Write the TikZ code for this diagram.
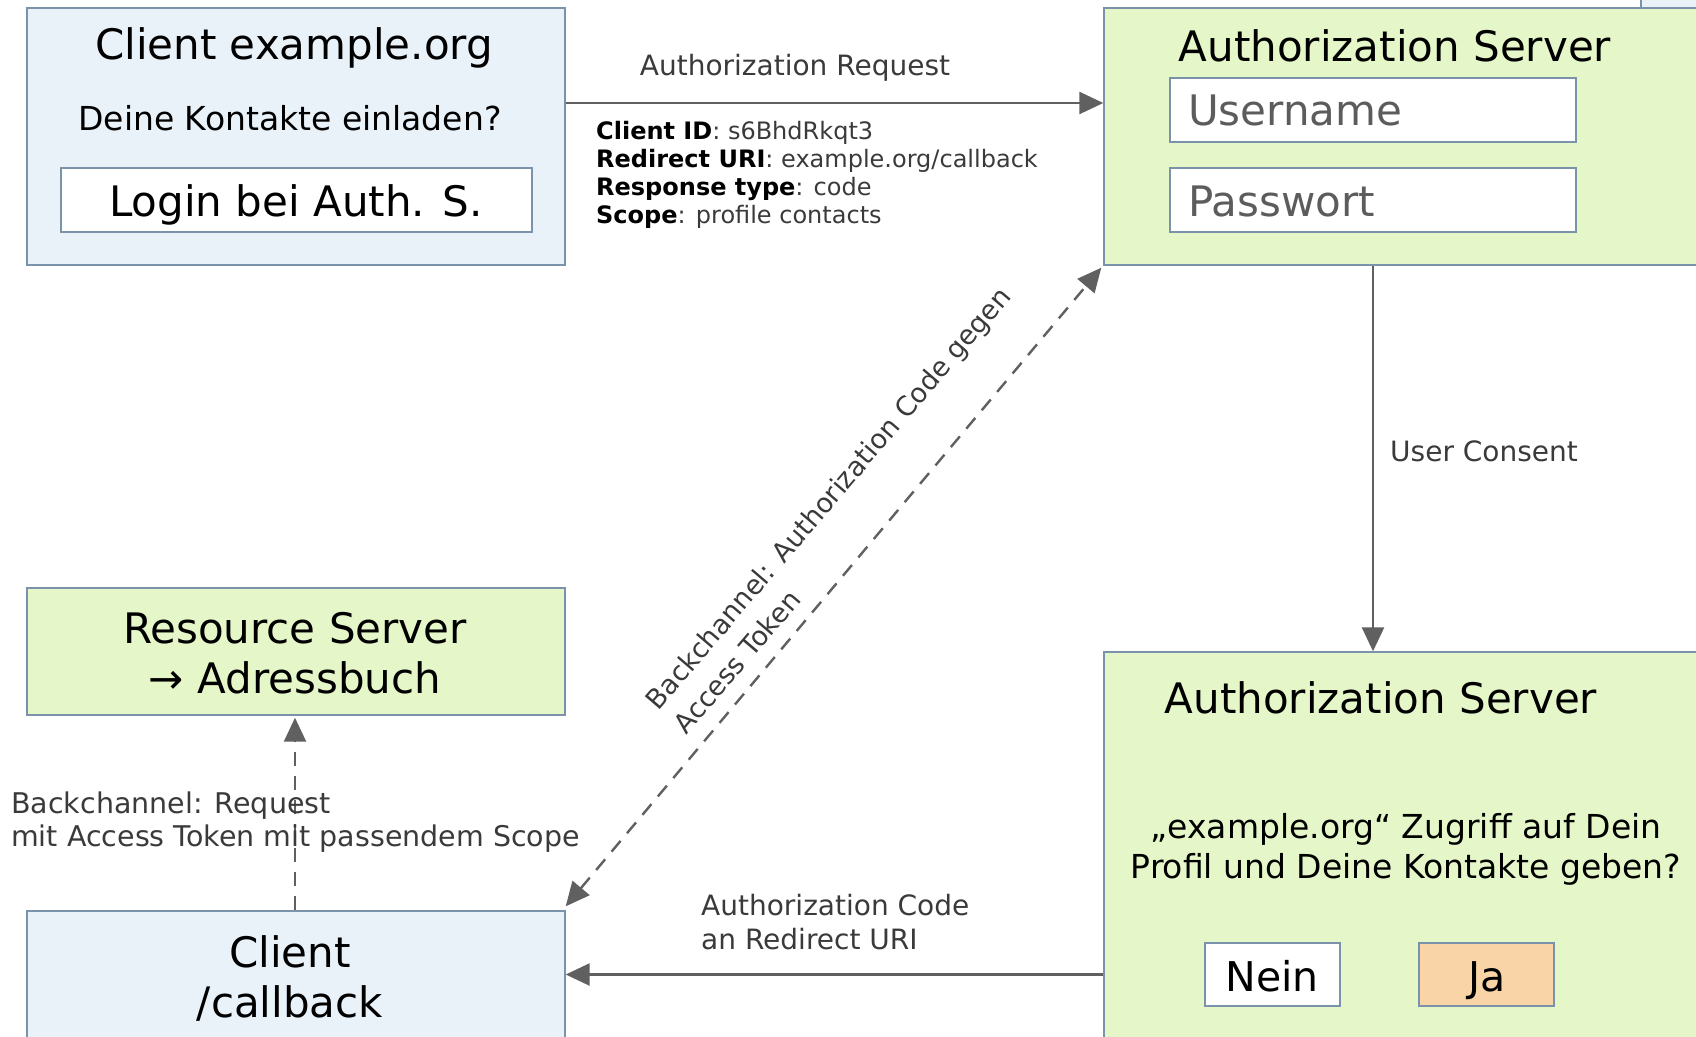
\documentclass[tikz,border=0pt]{standalone}
\usepackage{fontspec}
\setmainfont{DejaVu Sans}
\usetikzlibrary{arrows.meta}

\definecolor{clientfill}{RGB}{233,241,249}
\definecolor{serverfill}{RGB}{229,247,200}
\definecolor{boxline}{RGB}{122,146,170}
\definecolor{arrowgray}{RGB}{96,96,96}
\definecolor{labelgray}{RGB}{58,58,58}
\definecolor{fieldgray}{RGB}{92,92,92}
\definecolor{jafill}{RGB}{248,212,166}

\tikzset{
  panel/.style={draw=boxline, line width=1.4pt, inner sep=0pt},
  clientbox/.style={panel, fill=clientfill},
  serverbox/.style={panel, fill=serverfill},
  fieldbox/.style={panel, fill=white},
  bigtext/.style={inner sep=0pt, font=\fontsize{42}{50}\selectfont},
  midtext/.style={inner sep=0pt, font=\fontsize{33}{40}\selectfont, align=center},
  fieldtext/.style={inner sep=0pt, text=fieldgray, font=\fontsize{42}{50}\selectfont},
  lbl/.style={inner sep=0pt, text=labelgray, font=\fontsize{28}{33}\selectfont},
  flow/.style={draw=arrowgray, line width=2.6pt,
    -{Triangle[length=24pt, width=22pt, fill=arrowgray]}},
  dflow/.style={draw=arrowgray, line width=2.4pt, dash pattern=on 14pt off 10pt},
}

\begin{document}
\begin{tikzpicture}[x=1pt, y=-1pt]
  \useasboundingbox (0,0) rectangle (1696,1036);
  \clip (0,0) rectangle (1696,1036);

  % --- Client (start page) ---
  \node[clientbox, minimum width=538pt, minimum height=257pt] (cl1) at (296,136.5) {};
  \node[bigtext] (cl1title) at (294,48) {Client example.org};
  \node[midtext] (cl1ask) at (290,118) {Deine Kontakte einladen?};
  \node[fieldbox, minimum width=471pt, minimum height=64pt] (login) at (296.5,200) {};
  \node[bigtext] (logintext) at (296,205) {Login bei Auth. S.};

  % --- Authorization Server: login form ---
  \node[serverbox, minimum width=640pt, minimum height=257pt] (as1) at (1424,136.5) {};
  \node[bigtext] (as1title) at (1395,46) {Authorization Server};
  \node[fieldbox, minimum width=406pt, minimum height=64pt] (user) at (1373,110) {};
  \node[fieldtext, anchor=west] (usertext) at (1188,110) {Username};
  \node[fieldbox, minimum width=406pt, minimum height=64pt] (pass) at (1373,200) {};
  \node[fieldtext, anchor=west] (passtext) at (1188,201) {Passwort};

  % neighbouring panel at the top right edge
  \node[clientbox, minimum width=100pt, minimum height=16pt] (edge) at (1691,0) {};

  % --- Resource Server ---
  \node[serverbox, minimum width=538pt, minimum height=127pt] (rs) at (296,651.5) {};
  \node[bigtext, align=center] (rstext) at (295,653) {Resource Server\\→ Adressbuch};

  % --- Client callback ---
  \node[clientbox, minimum width=538pt, minimum height=160pt] (cl2) at (296,991) {};
  \node[bigtext, align=center] (cl2text) at (290,978) {Client\\/callback};

  % --- Authorization Server: consent ---
  \node[serverbox, minimum width=640pt, minimum height=420pt] (as2) at (1424,862) {};
  \node[bigtext] (as2title) at (1381,698) {Authorization Server};
  \node[midtext] (as2ask) at (1406,849) {„example.org“ Zugriff auf Dein\\Profil und Deine Kontakte geben?};
  \node[fieldbox, minimum width=135pt, minimum height=63pt] (nein) at (1272.5,974.5) {};
  \node[bigtext, anchor=base, font=\fontsize{41}{48}\selectfont] (neintext) at (1272,991) {Nein};
  \node[panel, fill=jafill, minimum width=135pt, minimum height=63pt] (ja) at (1486.5,974.5) {};
  \node[bigtext, anchor=base, font=\fontsize{41}{48}\selectfont] (jatext) at (1487,991.5) {Ja};

  % --- Connectors ---
  \draw[flow] ([yshift=33.5pt]cl1.east) -- ([yshift=33.5pt]as1.west);
  \node[lbl] (reqlabel) at (795,68) {Authorization Request};
  \node[inner sep=0pt, anchor=west, align=left, text=labelgray,
        font=\fontsize{24}{28}\selectfont] (params) at (596,175)
    {\textcolor{black}{\textbf{Client ID}}: s6BhdRkqt3\\
     \textcolor{black}{\textbf{Redirect URI}}: example.org/callback\\
     \textcolor{black}{\textbf{Response type}}: code\\
     \textcolor{black}{\textbf{Scope}}: profile contacts};

  \draw[flow] (user.south |- as1.south) -- (user.south |- as2.north);
  \node[lbl, anchor=west] (consentlabel) at (1390,451) {User Consent};

  \draw[flow] (as2.west |- nein) -- (cl2.east |- nein);
  \node[lbl, anchor=west, align=left, font=\fontsize{28}{34}\selectfont] (codelabel) at (701,922)
    {Authorization Code\\an Redirect URI};

  \draw[dflow, {Triangle[length=24pt, width=22pt, fill=arrowgray]}-{Triangle[length=24pt, width=22pt, fill=arrowgray]}]
    ([shift={(0pt,4pt)}]cl2.north east) -- ([shift={(-2pt,-2pt)}]as1.south west);
  \node[lbl, rotate=49.5, align=left, font=\fontsize{27}{37}\selectfont] (tokenlabel) at (842,510)
    {Backchannel: Authorization Code gegen\\Access Token};

  \draw[dflow, -{Triangle[length=24pt, width=22pt, fill=arrowgray]}]
    ([xshift=-1pt]cl2.north) -- ([xshift=-1pt,yshift=-2pt]rs.south);
  \node[lbl, anchor=west, align=left, font=\fontsize{28.5}{32.5}\selectfont] (rslabel) at (11,822)
    {Backchannel: Request\\mit Access Token mit passendem Scope};
\end{tikzpicture}
\end{document}
